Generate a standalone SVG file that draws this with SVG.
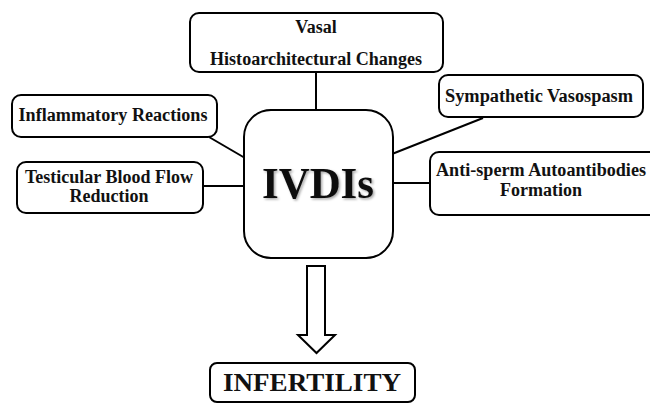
<svg xmlns="http://www.w3.org/2000/svg" width="650" height="403" viewBox="0 0 650 403">
<defs>
<style>
.box{fill:#fff;stroke:#000;stroke-width:2}
.t{font-family:"Liberation Serif","Times New Roman",serif;font-weight:bold;font-size:18px;fill:#111;text-anchor:middle}
.c{stroke:#000;stroke-width:2;fill:none}
</style>
<filter id="sh" x="-10%" y="-10%" width="130%" height="130%">
<feDropShadow dx="1.5" dy="1.5" stdDeviation="1" flood-color="#000" flood-opacity="0.35"/>
</filter>
</defs>
<rect width="650" height="403" fill="#fff"/>
<g id="connectors">
<line class="c" x1="316" y1="72" x2="316" y2="110"/>
<line class="c" x1="209" y1="137" x2="245" y2="158"/>
<line class="c" x1="203" y1="186" x2="245" y2="186"/>
<line class="c" x1="483" y1="118" x2="392" y2="154"/>
<line class="c" x1="393" y1="183" x2="430" y2="183"/>
<path class="c" d="M307,266 H325 V335 H335 L316.5,353 L298,335 H307 Z" fill="#fff"/>
</g>
<g id="vasal">
<rect class="box" x="190" y="13" width="253" height="59" rx="9"/>
<text class="t" x="316" y="33">Vasal</text>
<text class="t" x="316" y="65" textLength="212" lengthAdjust="spacingAndGlyphs">Histoarchitectural Changes</text>
</g>
<g id="inflammatory">
<rect class="box" x="12" y="95" width="205" height="42" rx="9"/>
<text class="t" x="113" y="121" textLength="189" lengthAdjust="spacingAndGlyphs">Inflammatory Reactions</text>
</g>
<g id="testicular">
<rect class="box" x="17" y="162" width="186" height="51" rx="9"/>
<text class="t" x="109" y="183">Testicular Blood Flow</text>
<text class="t" x="109" y="202">Reduction</text>
</g>
<g id="ivdis">
<rect class="box" x="244" y="110" width="149" height="148" rx="27"/>
<text class="t" x="318" y="198" style="font-size:44px" textLength="112" lengthAdjust="spacingAndGlyphs" filter="url(#sh)">IVDIs</text>
</g>
<g id="sympathetic">
<rect class="box" x="439" y="75" width="204" height="42" rx="9"/>
<text class="t" x="539" y="102" textLength="188" lengthAdjust="spacingAndGlyphs">Sympathetic Vasospasm</text>
</g>
<g id="antisperm">
<rect class="box" x="430" y="152" width="240" height="63" rx="9"/>
<text class="t" x="541" y="176" textLength="210" lengthAdjust="spacingAndGlyphs">Anti-sperm Autoantibodies</text>
<text class="t" x="541" y="196">Formation</text>
</g>
<g id="infertility">
<rect class="box" x="210" y="363" width="205" height="39" rx="7"/>
<text class="t" x="312" y="391" style="font-size:26px" textLength="178" lengthAdjust="spacingAndGlyphs">INFERTILITY</text>
</g>
</svg>
